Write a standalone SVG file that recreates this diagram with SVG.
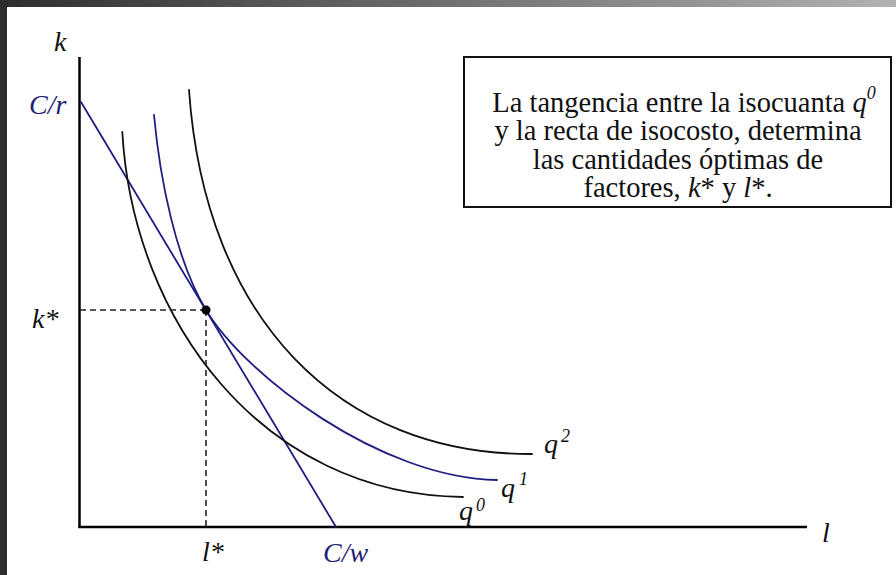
<svg xmlns="http://www.w3.org/2000/svg" width="896" height="575" viewBox="0 0 896 575">
<defs>
<linearGradient id="topbar" x1="0" y1="0" x2="1" y2="0">
<stop offset="0" stop-color="#2e2e2e"/>
<stop offset="1" stop-color="#b2b2b2"/>
</linearGradient>
<style>
.lbl{font-family:"Liberation Serif","Times New Roman",serif;font-style:italic;font-size:28px;fill:#111}
.blue{fill:#1f1f78}
.sup{font-size:18px}
.box{font-family:"Liberation Serif","Times New Roman",serif;font-size:28.5px;fill:#111;text-anchor:middle}
.axis{stroke:#000;stroke-width:2.5;fill:none}
.iso{fill:none;stroke-width:1.8;stroke-linecap:round}
.blk{stroke:#111}
.bl{stroke:#1f1f80}
.dash{stroke:#222;stroke-width:1.6;stroke-dasharray:6 4;fill:none}
</style>
</defs>
<rect width="896" height="575" fill="#fff"/>
<rect x="0" y="0" width="896" height="7" fill="url(#topbar)"/>
<rect x="0" y="0" width="7" height="575" fill="#2e2e2e"/>

<g id="axes">
<line class="axis" x1="79.5" y1="57" x2="79.5" y2="528"/>
<line class="axis" x1="78.5" y1="527" x2="807" y2="527"/>
<text class="lbl" x="54" y="51">k</text>
<text class="lbl" x="822" y="542">l</text>
</g>

<g id="connectors">
<line class="dash" x1="80" y1="310" x2="206" y2="310"/>
<line class="dash" x1="206" y1="310" x2="206" y2="526"/>
</g>

<g id="isocost">
<line class="iso bl" x1="81" y1="102" x2="336" y2="527"/>
<text class="lbl blue" x="29" y="114">C/r</text>
<text class="lbl blue" x="323" y="562">C/w</text>
</g>

<g id="q0">
<path class="iso blk" d="M122.3,132 C133,320 262,495 463,497"/>
<text class="lbl" x="459" y="520">q</text>
<text class="lbl sup" x="476" y="511">0</text>
</g>

<g id="q1">
<path class="iso bl" d="M154,115 C160,180 176,260 206,310 C245,375 380,478 497,480"/>
<text class="lbl" x="501" y="497">q</text>
<text class="lbl sup" x="519" y="485">1</text>
</g>

<g id="q2">
<path class="iso blk" d="M189,90 C205,320 340,455 532,454"/>
<text class="lbl" x="544" y="453">q</text>
<text class="lbl sup" x="561" y="442">2</text>
</g>

<g id="optimum">
<circle cx="206" cy="310" r="4.5" fill="#000"/>
<text class="lbl" x="32" y="328">k*</text>
<text class="lbl" x="202" y="561">l*</text>
</g>

<g id="note">
<rect x="464" y="57" width="427" height="150" fill="#fff" stroke="#111" stroke-width="2"/>
<text class="box" x="684" y="112">La tangencia entre la isocuanta <tspan font-style="italic">q</tspan><tspan font-style="italic" font-size="18" dy="-13">0</tspan></text>
<text class="box" x="678" y="140">y la recta de isocosto, determina</text>
<text class="box" x="678" y="168.5">las cantidades óptimas de</text>
<text class="box" x="678" y="197">factores, <tspan font-style="italic">k</tspan>* y <tspan font-style="italic">l</tspan>*.</text>
</g>
</svg>
